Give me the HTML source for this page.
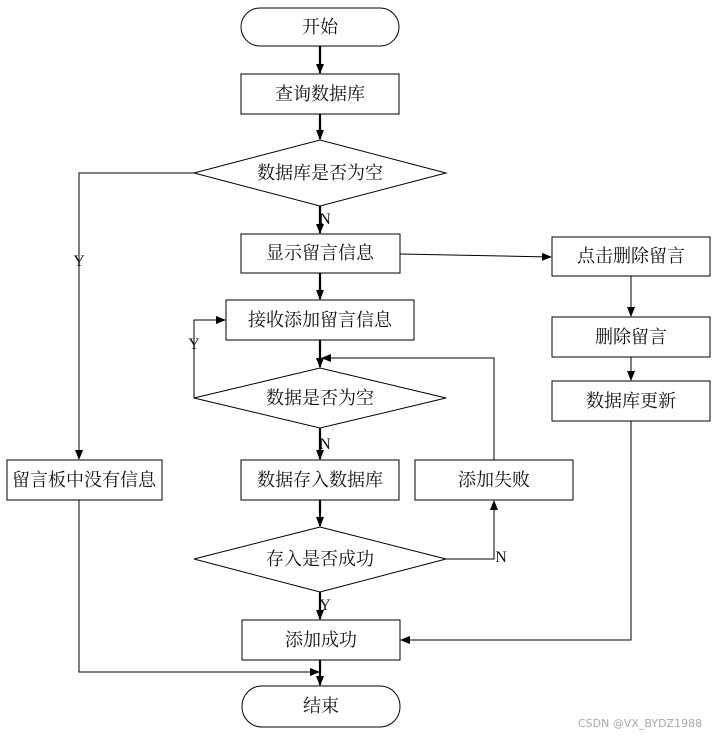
<!DOCTYPE html>
<html><head><meta charset="utf-8"><style>
body{margin:0;background:#fff;}
svg text{font-family:"Liberation Serif","Noto Serif CJK SC",serif;font-size:18px;fill:#111;}
</style></head><body>
<svg width="719" height="736" viewBox="0 0 719 736" xmlns="http://www.w3.org/2000/svg">
<defs>
<marker id="a" markerWidth="10" markerHeight="10" refX="9" refY="5" orient="auto" markerUnits="userSpaceOnUse"><path d="M0,1 L10,5 L0,9 Z" fill="#000"/></marker>
</defs>
<g fill="none" stroke="#000" stroke-width="1">
<rect x="241" y="8" width="158" height="38" rx="19"/>
<rect x="241" y="74" width="158" height="40"/>
<polygon points="194,173 320,140 446,173 320,206"/>
<rect x="241" y="234" width="159" height="39"/>
<rect x="226" y="300" width="188" height="40"/>
<polygon points="194,398 320,368 446,398 320,428"/>
<rect x="241" y="460" width="158" height="40"/>
<rect x="415" y="460" width="158" height="40"/>
<polygon points="194,559 320,527 446,559 320,592"/>
<rect x="242" y="620" width="158" height="40"/>
<rect x="242" y="686" width="158" height="41" rx="20"/>
<rect x="552" y="237" width="158" height="39"/>
<rect x="552" y="317" width="158" height="40"/>
<rect x="552" y="381" width="158" height="40"/>
<rect x="7" y="460" width="155" height="40"/>
</g>
<g fill="none" stroke="#000" stroke-width="2.2">
<line x1="320" y1="46" x2="320" y2="73" marker-end="url(#a)"/>
<line x1="320" y1="114" x2="320" y2="139" marker-end="url(#a)"/>
<line x1="320" y1="206" x2="320" y2="233" marker-end="url(#a)"/>
<line x1="320" y1="273" x2="320" y2="299" marker-end="url(#a)"/>
<line x1="320" y1="340" x2="320" y2="367" marker-end="url(#a)"/>
<line x1="320" y1="428" x2="320" y2="459" marker-end="url(#a)"/>
<line x1="320" y1="500" x2="320" y2="526" marker-end="url(#a)"/>
<line x1="320" y1="592" x2="320" y2="619" marker-end="url(#a)"/>
<line x1="320" y1="660" x2="320" y2="685" marker-end="url(#a)"/>
</g>
<g fill="none" stroke="#000" stroke-width="1">
<polyline points="194,173 79,173 79,459" marker-end="url(#a)"/>
<polyline points="79,500 79,672 319,672" marker-end="url(#a)"/>
<polyline points="194,398 194,320 225,320" marker-end="url(#a)"/>
<polyline points="494,460 494,358 322,358" marker-end="url(#a)"/>
<polyline points="446,559 494,559 494,501" marker-end="url(#a)"/>
<polyline points="400,254 551,257" marker-end="url(#a)"/>
<line x1="631" y1="276" x2="631" y2="316" marker-end="url(#a)"/>
<line x1="631" y1="357" x2="631" y2="380" marker-end="url(#a)"/>
<polyline points="631,421 631,640 401,640" marker-end="url(#a)"/>
</g>
<g text-anchor="middle">
<text x="320" y="33">开始</text>
<text x="320" y="100">查询数据库</text>
<text x="320" y="179">数据库是否为空</text>
<text x="320" y="259">显示留言信息</text>
<text x="320" y="326">接收添加留言信息</text>
<text x="320" y="404">数据是否为空</text>
<text x="320" y="486">数据存入数据库</text>
<text x="494" y="486">添加失败</text>
<text x="320" y="565">存入是否成功</text>
<text x="321" y="646">添加成功</text>
<text x="321" y="712">结束</text>
<text x="631" y="262">点击删除留言</text>
<text x="631" y="343">删除留言</text>
<text x="631" y="407">数据库更新</text>
<text x="84" y="486">留言板中没有信息</text>
<text x="79" y="266" style="font-size:16px">Y</text>
<text x="194" y="349" style="font-size:16px">Y</text>
<text x="325" y="224" style="font-size:16px">N</text>
<text x="325" y="449" style="font-size:16px">N</text>
<text x="501" y="562" style="font-size:16px">N</text>
<text x="325" y="610" style="font-size:16px">Y</text>
</g>
<text x="578" y="727" style="font-family:'DejaVu Sans',sans-serif;font-size:11px;fill:#aaa">CSDN @VX_BYDZ1988</text>
</svg>
</body></html>
